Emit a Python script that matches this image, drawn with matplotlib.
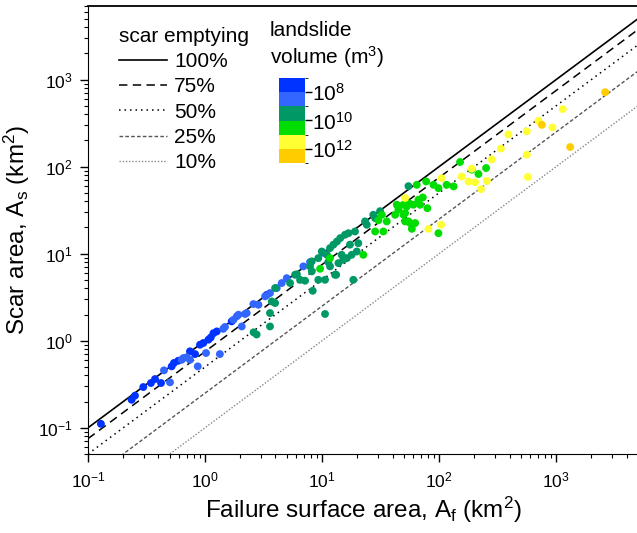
import numpy as np
import matplotlib
matplotlib.use("Agg")
import matplotlib.pyplot as plt
from matplotlib.colors import ListedColormap, BoundaryNorm

plt.rcParams['font.family'] = ['Liberation Sans', 'DejaVu Sans']
plt.rcParams['mathtext.fontset'] = 'custom'
plt.rcParams['mathtext.rm'] = 'Liberation Sans'
plt.rcParams['mathtext.it'] = 'Liberation Sans:italic'
plt.rcParams['mathtext.default'] = 'regular'

# failure surface area (km2), scar area (km2), landslide volume class (log10 m3)
af_1 = [0.129, 0.236, 0.252, 0.297, 0.345, 0.374, 0.421, 0.519, 0.591, 0.744, 0.906, 1.07,
        1.12, 1.26, 1.69, 3.37, 0.543, 0.822, 0.967, 1.18]
as_1 = [0.111, 0.210, 0.234, 0.294, 0.327, 0.363, 0.327, 0.508, 0.589, 0.756, 0.900, 1.03,
        1.09, 1.28, 1.67, 3.37, 0.556, 0.703, 0.942, 1.22]

af_2 = [0.446, 0.502, 0.632, 0.698, 0.867, 1.02, 1.34, 1.43, 1.48, 1.87, 2.06, 2.27, 2.59,
        2.86, 3.26, 3.59, 4.10, 4.52, 4.99, 6.92, 7.89, 10.3, 0.744, 0.653, 1.75, 1.93, 2.20]
as_2 = [0.457, 0.333, 0.605, 0.645, 0.508, 0.723, 0.703, 1.37, 1.44, 1.91, 1.46, 2.08, 2.64,
        2.59, 3.24, 3.53, 4.03, 4.60, 5.24, 7.15, 8.01, 10.2, 0.605, 0.633, 1.74, 1.99, 2.03]

af_3 = [2.60, 2.76, 3.72, 3.59, 3.59, 3.97, 3.97, 5.88, 5.33, 6.49, 7.16, 7.89, 8.17, 8.17,
        8.32, 9.29, 9.29, 10.6, 10.6, 9.94, 11.0, 11.7, 12.5, 13.4, 14.3, 15.7, 16.8, 19.1,
        17.3, 17.9, 14.7, 13.8, 12.9, 11.7, 11.3, 15.2, 16.3, 18.5, 19.8, 20.4, 23.3, 24.1,
        27.4, 28.4, 31.3, 54.7, 6.10, 13.2]
as_3 = [1.25, 1.18, 2.83, 2.08, 1.46, 4.03, 2.71, 5.73, 4.60, 5.01, 4.89, 7.15, 6.27, 8.16,
        3.75, 5.01, 8.90, 5.01, 2.03, 10.6, 9.71, 11.6, 12.7, 13.8, 15.1, 16.5, 17.2, 18.0,
        12.7, 9.71, 9.71, 7.80, 5.73, 7.15, 8.01, 8.51, 8.90, 5.01, 10.6, 13.2, 23.5, 21.5,
        28.0, 25.6, 30.8, 59.7, 5.80, 5.73]

af_4 = [9.62, 11.7, 22.5, 28.4, 32.4, 33.4, 35.7, 43.5, 44.9, 42.1, 49.6, 53.0, 55.7, 51.2,
        56.5, 60.3, 64.4, 66.5, 72.6, 68.9, 77.5, 79.4, 89.5, 98.7, 116, 133, 151, 190, 217,
        252, 51.2, 54.7, 62.4, 58.5, 98.7, 49.6, 30.3]
as_4 = [6.71, 8.90, 9.71, 18.0, 28.0, 18.0, 23.5, 36.5, 32.0, 28.0, 28.0, 34.9, 37.8, 23.5,
        22.5, 36.5, 61.8, 41.6, 44.3, 36.5, 67.6, 33.3, 61.8, 56.6, 61.8, 59.3, 113, 92.3, 82.3,
        96.4, 29.3, 23.5, 22.5, 19.3, 17.2, 36.5, 24.2]

af_5 = [51.2, 105, 81.1, 104, 156, 178, 203, 256, 228, 190, 282, 337, 391, 562, 562, 573,
        706, 930, 1140]
as_5 = [43.6, 73.8, 19.3, 21.5, 77.1, 67.4, 66.2, 68.6, 55.1, 94.6, 121, 161, 235, 254, 137,
        76.1, 336, 282, 458]

af_6 = [755, 1318, 2624]
as_6 = [302, 168, 716]

vol_class = [7.5, 8.5, 9.5, 10.5, 11.5, 12.5]
vol_colors = ['#0033ff', '#3366ff', '#009966', '#00dd00', '#ffff33', '#ffcc00']

emptying = [1.0, 0.75, 0.5, 0.25, 0.1]
emptying_labels = ['100%', '75%', '50%', '25%', '10%']
line_styles = [
    dict(color='black', lw=1.2, ls='-'),
    dict(color='black', lw=1.1, ls=(0, (5.5, 3.5))),
    dict(color='black', lw=1.1, ls=(0, (1, 2.6))),
    dict(color='#555555', lw=1.0, ls=(0, (2.6, 1.6))),
    dict(color='#888888', lw=1.0, ls=(0, (1, 1.3))),
]

fig = plt.figure(figsize=(6.37, 5.33), dpi=100)
ax = fig.add_axes([0.1381, 0.1482, 0.8634, 0.8405])

cmap = ListedColormap(vol_colors)
norm = BoundaryNorm(np.arange(7, 14), cmap.N)

xs = np.array([0.1, 5000])
handles = []
for f, lab, st in zip(emptying, emptying_labels, line_styles):
    h, = ax.plot(xs, f * xs, label=lab, **st)
    handles.append(h)

groups = [(af_1, as_1), (af_2, as_2), (af_3, as_3), (af_4, as_4), (af_5, as_5), (af_6, as_6)]
sc = None
for (a, s), v in zip(groups, vol_class):
    sc = ax.scatter(a, s, c=[v] * len(a), cmap=cmap, norm=norm, s=32,
                    edgecolors='none', zorder=3)

ax.set_xscale('log')
ax.set_yscale('log')
ax.set_xlim(0.1, 5000)
ax.set_ylim(0.05, 7000)
ax.spines['right'].set_visible(False)
ax.spines['top'].set_linewidth(1.3)
ax.tick_params(which='major', direction='out', length=6, width=1, labelsize=12.5,
               top=False, right=False)
ax.tick_params(axis='x', which='major', pad=6)
ax.tick_params(axis='y', which='major', pad=5)
ax.tick_params(which='minor', direction='out', length=3, width=0.8, top=False, right=False)
ax.set_xlabel('Failure surface area, A$_f$ (km$^2$)', fontsize=17.5, labelpad=3)
ax.set_ylabel('Scar area, A$_s$ (km$^2$)', fontsize=17.5, labelpad=4)

leg = ax.legend(handles=handles, title='scar emptying', loc='upper left',
                bbox_to_anchor=(119 / 637, 1 - 27 / 533), bbox_transform=fig.transFigure,
                frameon=False, fontsize=15, title_fontsize=15, handlelength=2.3,
                handletextpad=0.35, labelspacing=0.3, borderpad=0, borderaxespad=0,
                alignment='left')

fig.text(270 / 637, 1 - 31 / 533, 'landslide', fontsize=15, va='center', ha='left')
fig.text(270 / 637, 1 - 57 / 533, 'volume (m$^3$)', fontsize=15, va='center', ha='left')

cax = fig.add_axes([279 / 637, 1 - 163 / 533, 26 / 637, 85 / 533])
cb = fig.colorbar(sc, cax=cax, ticks=[8, 10, 12])
cb.ax.set_yticklabels(['$10^{8}$', '$10^{10}$', '$10^{12}$'])
cb.ax.invert_yaxis()
cb.outline.set_visible(False)
cb.ax.tick_params(length=5, width=1, labelsize=15, pad=0)

fig.savefig('out.png', dpi=100)
